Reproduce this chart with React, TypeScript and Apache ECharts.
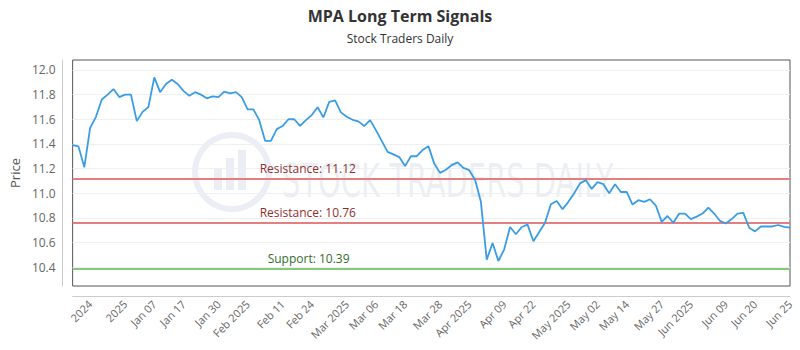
import React, { useEffect, useRef } from 'react';
import * as echarts from 'echarts';

const dates = [
  '2024-12-26', '2024-12-27', '2024-12-30', '2024-12-31',
  '2025-01-02', '2025-01-03', '2025-01-06', '2025-01-07', '2025-01-08', '2025-01-10',
  '2025-01-13', '2025-01-14', '2025-01-15', '2025-01-16', '2025-01-17', '2025-01-21',
  '2025-01-22', '2025-01-23', '2025-01-24', '2025-01-27', '2025-01-28', '2025-01-29',
  '2025-01-30', '2025-01-31',
  '2025-02-03', '2025-02-04', '2025-02-05', '2025-02-06', '2025-02-07', '2025-02-10',
  '2025-02-11', '2025-02-12', '2025-02-13', '2025-02-14', '2025-02-18', '2025-02-19',
  '2025-02-20', '2025-02-21', '2025-02-24', '2025-02-25', '2025-02-26', '2025-02-27',
  '2025-02-28',
  '2025-03-03', '2025-03-04', '2025-03-05', '2025-03-06', '2025-03-07', '2025-03-10',
  '2025-03-11', '2025-03-12', '2025-03-13', '2025-03-14', '2025-03-17', '2025-03-18',
  '2025-03-19', '2025-03-20', '2025-03-21', '2025-03-24', '2025-03-25', '2025-03-26',
  '2025-03-27', '2025-03-28', '2025-03-31',
  '2025-04-01', '2025-04-02', '2025-04-03', '2025-04-04', '2025-04-07', '2025-04-08',
  '2025-04-09', '2025-04-10', '2025-04-11', '2025-04-14', '2025-04-15', '2025-04-16',
  '2025-04-17', '2025-04-21', '2025-04-22', '2025-04-23', '2025-04-24', '2025-04-25',
  '2025-04-28', '2025-04-29', '2025-04-30',
  '2025-05-01', '2025-05-02', '2025-05-05', '2025-05-06', '2025-05-07', '2025-05-08',
  '2025-05-09', '2025-05-12', '2025-05-13', '2025-05-14', '2025-05-15', '2025-05-16',
  '2025-05-19', '2025-05-20', '2025-05-21', '2025-05-22', '2025-05-23', '2025-05-27',
  '2025-05-28', '2025-05-29', '2025-05-30',
  '2025-06-02', '2025-06-03', '2025-06-04', '2025-06-05', '2025-06-06', '2025-06-09',
  '2025-06-10', '2025-06-11', '2025-06-12', '2025-06-13', '2025-06-16', '2025-06-17',
  '2025-06-18', '2025-06-20', '2025-06-23', '2025-06-24', '2025-06-25', '2025-06-26',
];

const prices = [
  11.39, 11.38, 11.21, 11.53, 11.62, 11.76, 11.80, 11.845, 11.78, 11.80,
  11.80, 11.585, 11.66, 11.70, 11.94, 11.82, 11.886, 11.92, 11.886, 11.83,
  11.79, 11.82, 11.80, 11.77, 11.786, 11.78, 11.824, 11.81, 11.82, 11.78,
  11.68, 11.68, 11.593, 11.425, 11.425, 11.52, 11.545, 11.60, 11.60, 11.547,
  11.593, 11.634, 11.697, 11.615, 11.742, 11.753, 11.656, 11.62, 11.596, 11.583,
  11.545, 11.593, 11.512, 11.425, 11.336, 11.315, 11.293, 11.22, 11.30, 11.30,
  11.35, 11.382, 11.24, 11.165, 11.19, 11.228, 11.25, 11.206, 11.187, 11.11,
  10.93, 10.46, 10.596, 10.45, 10.545, 10.726, 10.667, 10.726, 10.745, 10.61,
  10.685, 10.76, 10.91, 10.937, 10.87, 10.93, 11.00, 11.08, 11.106, 11.035,
  11.09, 11.073, 11.00, 11.073, 11.01, 11.01, 10.908, 10.943, 10.93, 10.951,
  10.90, 10.767, 10.815, 10.76, 10.835, 10.835, 10.79, 10.81, 10.835, 10.884,
  10.835, 10.775, 10.754, 10.79, 10.835, 10.84, 10.72, 10.69, 10.73, 10.73,
  10.73, 10.742, 10.726, 10.72,
];

const tickIndex = [3, 9, 14, 19, 25, 30, 36, 41, 47, 52, 57, 63, 68, 74, 79, 85, 90, 95, 101, 106, 112, 117, 123];
const tickLabels = [
  '2024', '2025', 'Jan 07', 'Jan 17', 'Jan 30', 'Feb 2025', 'Feb 11', 'Feb 24',
  'Mar 2025', 'Mar 06', 'Mar 18', 'Mar 28', 'Apr 2025', 'Apr 09', 'Apr 22',
  'May 2025', 'May 02', 'May 14', 'May 27', 'Jun 2025', 'Jun 09', 'Jun 20', 'Jun 25',
];

const yTicks = [10.4, 10.6, 10.8, 11.0, 11.2, 11.4, 11.6, 11.8, 12.0];

const levelNames = ['Resistance', 'Resistance', 'Support'];
const levelValues = [11.12, 10.76, 10.39];

export default function App() {
  const ref = useRef<HTMLDivElement>(null);

  useEffect(() => {
    if (!ref.current) return;
    const chart = echarts.init(ref.current, undefined, { renderer: 'svg' });
    const labelAt: Record<number, string> = {};
    tickIndex.forEach((idx, k) => { labelAt[idx] = tickLabels[k]; });

    const levelStyles = [
      { line: '#e57f7f', text: '#8e2f2f', dx: 187 },
      { line: '#e57f7f', text: '#8e2f2f', dx: 187 },
      { line: '#86c97a', text: '#2f6e1f', dx: 195 },
    ];

    const font = '"Open Sans", "Noto Sans", sans-serif';
    const wmColor = 'rgba(165,182,208,0.22)';

    chart.setOption({
      animation: false,
      title: {
        text: 'MPA Long Term Signals',
        subtext: 'Stock Traders Daily',
        left: 'center',
        top: 3,
        itemGap: 8,
        textStyle: { fontFamily: font, fontSize: 16, fontWeight: 'bold', color: '#333' },
        subtextStyle: { fontFamily: font, fontSize: 12, color: '#333' },
      },
      graphic: [
        {
          type: 'circle', silent: true, z: 0,
          shape: { cx: 232, cy: 172, r: 37 },
          style: { fill: 'none', stroke: wmColor, lineWidth: 6 },
        },
        {
          type: 'rect', silent: true, z: 0,
          shape: { x: 214, y: 168, width: 8, height: 22 },
          style: { fill: wmColor },
        },
        {
          type: 'rect', silent: true, z: 0,
          shape: { x: 226, y: 158, width: 8, height: 32 },
          style: { fill: wmColor },
        },
        {
          type: 'rect', silent: true, z: 0,
          shape: { x: 238, y: 150, width: 8, height: 40 },
          style: { fill: wmColor },
        },
        {
          type: 'text', silent: true, z: 0,
          x: 282, y: 181, scaleX: 0.7,
          style: {
            text: 'STOCK TRADERS DAILY',
            font: '46px "Liberation Sans Narrow", "DejaVu Sans Condensed", sans-serif',
            fill: wmColor,
            verticalAlign: 'middle',
            align: 'left',
          },
        },
      ],
      grid: {
        left: 70, right: 10, top: 60, bottom: 64,
        show: true, borderColor: '#555', borderWidth: 1, backgroundColor: 'transparent',
      },
      xAxis: {
        type: 'category',
        data: dates,
        boundaryGap: false,
        offset: 10,
        axisLine: { show: true, lineStyle: { color: '#ccc' } },
        axisTick: { show: false },
        splitLine: { show: false },
        axisLabel: {
          interval: 0,
          rotate: 45,
          margin: 6,
          fontFamily: font,
          fontSize: 11,
          color: '#666',
          formatter: (_v: string, i: number) => labelAt[i] ?? '',
        },
      },
      yAxis: {
        type: 'value',
        min: 10.247,
        max: 12.081,
        offset: 10,
        name: 'Price',
        nameLocation: 'middle',
        nameGap: 38,
        nameTextStyle: { fontFamily: font, fontSize: 13, color: '#555' },
        axisLine: { show: true, lineStyle: { color: '#ccc' } },
        axisTick: { show: false, customValues: yTicks },
        axisLabel: {
          customValues: yTicks,
          margin: 7,
          fontFamily: font,
          fontSize: 12,
          color: '#666',
          formatter: (v: number) => v.toFixed(1),
        },
        splitLine: { show: true, lineStyle: { color: '#efefef', width: 1 } },
      },
      series: [
        {
          type: 'line',
          data: prices,
          showSymbol: false,
          symbol: 'none',
          lineStyle: { color: '#3a9de4', width: 1.8 },
          z: 3,
          markLine: {
            silent: true,
            symbol: 'none',
            z: 2,
            data: levelValues.map((v, i) => ({
              name: levelNames[i],
              yAxis: v,
              lineStyle: { color: levelStyles[i].line, width: 2, type: 'solid' },
              label: {
                show: true,
                position: 'insideStartTop',
                distance: [levelStyles[i].dx, 4],
                formatter: '{b}: {c}',
                fontFamily: font,
                fontSize: 12,
                color: levelStyles[i].text,
              },
            })),
          },
        },
      ],
    });
    return () => chart.dispose();
  }, []);

  return (
    <div
      ref={ref}
      style={{ position: 'fixed', left: 0, top: 0, width: 800, height: 350, background: '#fff' }}
    />
  );
}
